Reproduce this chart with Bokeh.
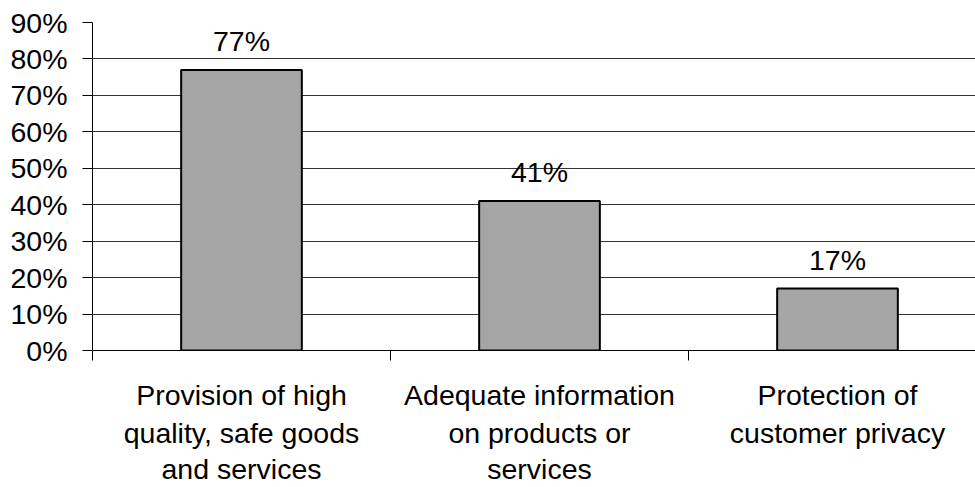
from bokeh.plotting import figure
from bokeh.models import Range1d, FixedTicker, PrintfTickFormatter, Label, LinearAxis, ColumnDataSource
from bokeh.embed import file_html
from bokeh.resources import INLINE

# Survey results: share of respondents per consumer-protection priority
categories = [
    ["Provision of high", "quality, safe goods", "and services"],
    ["Adequate information", "on products or", "services"],
    ["Protection of", "customer privacy"],
]
values = [77, 41, 17]
value_labels = ["77%", "41%", "17%"]
y_ticks = [0, 10, 20, 30, 40, 50, 60, 70, 80, 90]

FONT = "Liberation Sans"
FS = "28.5px"

left_px = 92
width = 975
cat_px = 298.0
x_end = (width - left_px) / cat_px

p = figure(
    width=width, height=487,
    x_range=Range1d(0, x_end), y_range=Range1d(0, 90),
    x_axis_location=None,
    output_backend="svg", toolbar_location=None,
    min_border_left=left_px, min_border_right=0,
    min_border_top=22, min_border_bottom=135,
)
p.outline_line_color = None
p.background_fill_color = "white"
p.border_fill_color = "white"

centers = [i + 0.5 for i in range(len(values))]
bounds = list(range(len(values) + 1))
src = ColumnDataSource(dict(x=centers, top=values, label=value_labels))
p.vbar(x="x", top="top", bottom=0, width=0.405, source=src,
       fill_color="#A5A5A5", line_color="black", line_width=2)

# value labels above each bar
for xc, v, t in zip(centers, values, value_labels):
    p.add_layout(Label(x=xc, y=v, y_offset=13, text=t, text_align="center",
                       text_baseline="bottom", text_font=FONT,
                       text_font_size=FS, text_color="black"))

# y axis
p.yaxis.ticker = FixedTicker(ticks=y_ticks)
p.yaxis.formatter = PrintfTickFormatter(format="%d%%")
p.yaxis.major_label_text_font = FONT
p.yaxis.major_label_text_font_size = FS
p.yaxis.major_label_text_color = "black"
p.yaxis.major_tick_out = 10
p.yaxis.major_tick_in = 0
p.yaxis.minor_tick_out = 0
p.yaxis.minor_tick_in = 0
p.yaxis.axis_line_color = "black"
p.yaxis.major_tick_line_color = "black"
p.yaxis.major_label_standoff = 15

p.xgrid.grid_line_color = None
p.ygrid.ticker = FixedTicker(ticks=y_ticks)
p.ygrid.grid_line_color = "#333333"
p.ygrid.grid_line_width = 1

# multi-line category labels: one axis per text line; the first one also
# carries the axis line and the category boundary ticks (as minor ticks)
n_lines = max(len(c) for c in categories)
standoffs = [18, 3, 1]
for k in range(n_lines):
    overrides = {}
    for xc, lines in zip(centers, categories):
        overrides[xc] = lines[k] if k < len(lines) else ""
    first = k == 0
    ax = LinearAxis(
        ticker=FixedTicker(ticks=centers, minor_ticks=bounds if first else []),
        major_label_overrides=overrides,
        major_label_text_font=FONT,
        major_label_text_font_size=FS,
        major_label_text_color="black",
        major_label_standoff=standoffs[k],
        major_tick_out=0, major_tick_in=0,
        minor_tick_out=10 if first else 0, minor_tick_in=0,
        minor_tick_line_color="black",
        axis_line_color="black" if first else None,
        major_label_orientation="horizontal",
    )
    p.add_layout(ax, "below")

open("out.html", "w").write(file_html(p, INLINE))
